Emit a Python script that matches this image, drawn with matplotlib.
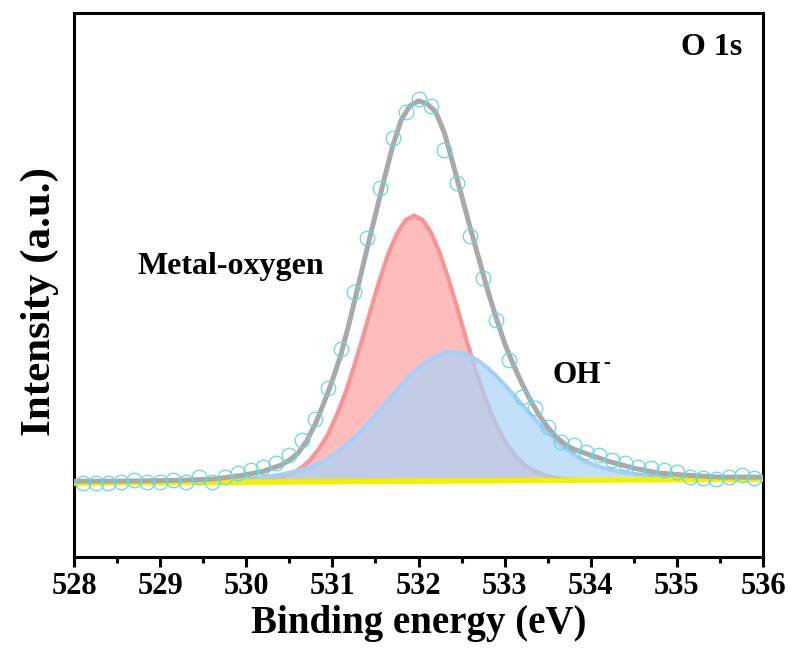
import matplotlib
matplotlib.use('Agg')
import matplotlib.pyplot as plt
from matplotlib.ticker import MultipleLocator

plt.rcParams['font.family'] = ['Liberation Serif', 'DejaVu Serif']
plt.rcParams['font.weight'] = 'bold'

# ---- measured data (open circles) ----
data_x = [528.10, 528.25, 528.40, 528.55, 528.70, 528.85, 529.00, 529.15, 529.30, 529.45,
          529.60, 529.75, 529.90, 530.05, 530.20, 530.35, 530.50, 530.65, 530.80, 530.95,
          531.10, 531.25, 531.40, 531.55, 531.70, 531.85, 532.00, 532.15, 532.30, 532.45,
          532.60, 532.75, 532.90, 533.05, 533.20, 533.35, 533.50, 533.65, 533.80, 533.95,
          534.10, 534.25, 534.40, 534.55, 534.70, 534.85, 535.00, 535.15, 535.30, 535.45,
          535.60, 535.75, 535.90]
data_y = [74, 74, 74, 75, 77, 75, 75, 77, 75, 80,
          75, 80, 84, 87, 90, 94, 102, 117, 138, 169,
          208, 266, 320, 370, 420, 446, 459, 452, 408, 375,
          322, 280, 237, 197, 160, 149, 130, 115, 112, 105,
          102, 97, 94, 90, 89, 87, 85, 80, 79, 78,
          80, 82, 79]

# ---- envelope (grey fit) ----
env_x = [528.0, 528.5, 529.0, 529.3, 529.6, 529.8, 530.0, 530.2, 530.4, 530.5,
         530.6, 530.7, 530.8, 530.9, 531.0, 531.1, 531.2, 531.3, 531.4, 531.5,
         531.6, 531.7, 531.8, 531.9, 532.0, 532.1, 532.2, 532.3, 532.4, 532.5,
         532.6, 532.7, 532.8, 532.9, 533.0, 533.1, 533.2, 533.3, 533.4, 533.5,
         533.6, 533.7, 533.8, 534.0, 534.2, 534.5, 534.8, 535.1, 535.5, 536.0]
env_y = [76, 76, 76.5, 77, 78, 80, 82.5, 86, 92, 97,
         104, 116, 133, 154, 177, 203, 236, 272, 308, 343,
         378, 412, 438, 452, 457, 454, 446, 425, 394, 362,
         330, 299, 268, 240, 214, 193, 174, 157, 142, 130,
         120, 113, 108, 102, 96, 89, 84, 82, 80, 80]

# ---- Metal-oxygen component (red) ----
red_x = [530.05, 530.15, 530.25, 530.35, 530.45, 530.55, 530.65, 530.75, 530.85, 530.95,
         531.05, 531.15, 531.25, 531.35, 531.45, 531.55, 531.65, 531.75, 531.85, 531.95,
         532.05, 532.15, 532.25, 532.35, 532.45, 532.55, 532.65, 532.75, 532.85, 532.95,
         533.05, 533.15, 533.25, 533.35, 533.45, 533.55, 533.65, 533.75, 533.85]
red_y = [75.5, 76, 77, 78.5, 81, 84.5, 90, 98, 109, 123,
         142, 164, 190.5, 219, 249, 278, 304, 324, 337.5, 342,
         337.5, 324.5, 304, 278, 249.5, 219.5, 191, 165, 142.5, 124.5,
         110, 99, 91, 86, 82.5, 80, 78.5, 78, 77.5]

# ---- OH- component (blue) ----
blue_x = [529.9, 530.0, 530.1, 530.2, 530.3, 530.4, 530.5, 530.6, 530.7, 530.8,
          530.9, 531.0, 531.1, 531.2, 531.3, 531.4, 531.5, 531.6, 531.7, 531.8,
          531.9, 532.0, 532.1, 532.2, 532.3, 532.4, 532.5, 532.6, 532.7, 532.8,
          532.9, 533.0, 533.1, 533.2, 533.3, 533.4, 533.5, 533.6, 533.7, 533.8,
          533.9, 534.0, 534.1, 534.2, 534.3, 534.4, 534.5, 534.6, 534.7, 534.8,
          534.9]
blue_y = [77.7, 78.3, 79, 80, 81.2, 82.5, 84.3, 86.3, 88.9, 91.9,
          96, 101.3, 107.7, 115.1, 123.4, 132.5, 142, 152, 162.2, 171.9,
          181, 189.1, 195.9, 201, 204.2, 205.2, 204.3, 201.2, 196.2, 189.5,
          181.5, 172.5, 162.9, 152.8, 143, 133.5, 124.5, 116.3, 109, 102.7,
          97.5, 93.5, 90.6, 88.1, 86.2, 84.5, 83.3, 82.2, 81.4, 80.7,
          80.2]

# ---- background (yellow) ----
base_x = [528.0, 536.0]
base_y = [74, 78]

x_ticks = [528, 529, 530, 531, 532, 533, 534, 535, 536]
x_ticklabels = ['528', '529', '530', '531', '532', '533', '534', '535', '536']

fig = plt.figure(figsize=(7.94, 6.55), dpi=100)
ax = fig.add_axes([0.0932, 0.1496, 0.8678, 0.8305])

ax.fill(red_x, red_y, color='#ffbcbc', lw=0, zorder=1)
ax.plot(red_x, red_y, color='#f79494', lw=3, zorder=2, solid_capstyle='round')
ax.fill(blue_x, blue_y, color=(169/255, 212/255, 248/255), alpha=0.7, lw=0, zorder=3)
ax.plot(blue_x, blue_y, color='#a6cff7', lw=3, zorder=4, solid_capstyle='round')
ax.plot(base_x, base_y, color='#f2f200', lw=4, zorder=5)
ax.plot(env_x, env_y, color='#a9a9a9', lw=3.6, zorder=6, solid_capstyle='round')
ax.plot(data_x, data_y, 'o', mfc='none', mec='#66d8e2', ms=10.5, mew=0.9, zorder=7)

ax.set_xlim(528, 536)
ax.set_ylim(0, 545)
ax.set_xticks(x_ticks)
ax.set_xticklabels(x_ticklabels)
ax.xaxis.set_minor_locator(MultipleLocator(0.5))
ax.set_yticks([])
ax.tick_params(axis='x', which='major', direction='out', length=7, width=2.2,
               labelsize=22, pad=4)
ax.tick_params(axis='x', which='minor', direction='out', length=4, width=2.2)
for s in ax.spines.values():
    s.set_linewidth(2.2)

ax.set_xlabel('Binding energy (eV)', fontsize=28, fontweight='bold', labelpad=3)
ax.set_ylabel('Intensity (a.u.)', fontsize=31, fontweight='bold')
ax.yaxis.set_label_coords(-0.022, 0.47)

ax.text(535.05, 510, 'O 1s', fontsize=23, fontweight='bold', va='center', ha='left')
ax.text(528.74, 291, 'Metal-oxygen', fontsize=23, fontweight='bold', va='center', ha='left')
ax.text(533.55, 182, 'OH', fontsize=22.5, fontweight='bold', va='center', ha='left')
ax.text(534.14, 194, '-', fontsize=15, fontweight='bold', va='center', ha='left')

fig.savefig('out.png', dpi=100)
